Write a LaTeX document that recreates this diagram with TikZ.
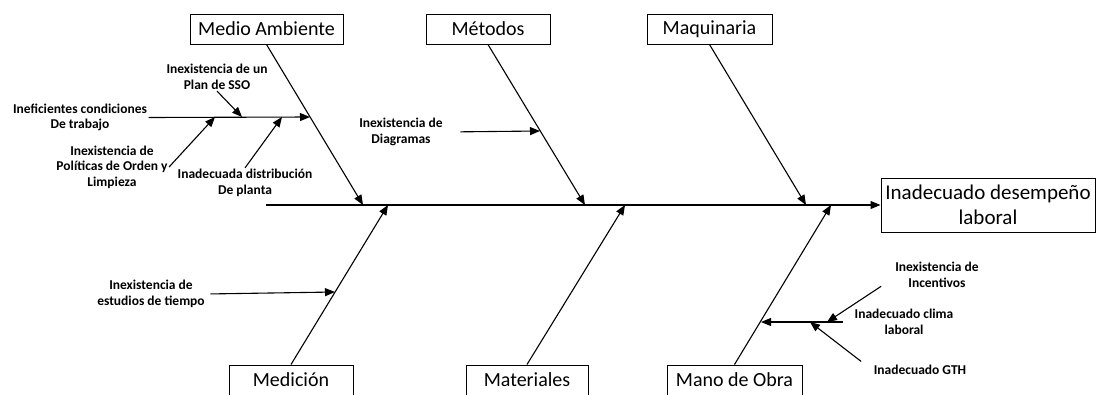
\documentclass[tikz,border=0pt]{standalone}
\usepackage{fontspec}
\setmainfont{Carlito}
\usetikzlibrary{arrows.meta}

\begin{document}
\begin{tikzpicture}[x=1pt,y=-1pt,line width=1.1pt,
  causa/.style={draw,line width=1pt,align=center,minimum height=30pt,inner sep=0pt,font=\fontsize{20}{24}\selectfont},
  etiq/.style={align=center,inner sep=1pt,font=\bfseries\fontsize{13.5}{15.5}\selectfont},
  >={Triangle[length=10pt,width=8pt]}]
\useasboundingbox (0,0) rectangle (1096,394);
% cajas
\node[causa,minimum width=153pt] (Amb) at (266.5,29) {Medio Ambiente};
\node[causa,minimum width=124pt] (Met) at (488,29) {Métodos};
\node[causa,minimum width=125pt] (Maq) at (709.5,29) {Maquinaria};
\node[causa,minimum width=124pt] (Med) at (291,380) {Medición};
\node[causa,minimum width=122pt] (Mat) at (527,380) {Materiales};
\node[causa,minimum width=135pt] (Obra) at (734.5,380) {Mano de Obra};
\node[causa,minimum width=214pt,minimum height=54pt,font=\fontsize{21}{25}\selectfont] (Efecto) at (988,205) {Inadecuado desempeño\\laboral};
% espina
\coordinate (S) at (266,205);
\coordinate (pAmb) at (363,205);
\coordinate (pMet) at (585,205);
\coordinate (pMaq) at (806,205);
\coordinate (pMed) at (388,205);
\coordinate (pMat) at (625,205);
\coordinate (pObra) at (831,205);
\path[->]
(S) edge (Efecto)
(Amb.south) edge (pAmb)
(Met.south) edge (pMet)
(Maq.south) edge (pMaq)
(Med.north) edge (pMed)
(Mat.north) edge (pMat)
(Obra.north) edge (pObra);
% subcausas
\node[etiq] (L1) at (80,117.5) {Ineficientes condiciones\\De trabajo};
\node[etiq] (L2) at (217,77) {Inexistencia de un\\Plan de SSO};
\node[etiq] (L3) at (112,167) {Inexistencia de\\Políticas de Orden y\\Limpieza};
\node[etiq] (L4) at (245,183) {Inadecuada distribución\\De planta};
\node[etiq] (L5) at (401,132) {Inexistencia de\\Diagramas};
\node[etiq] (L6) at (151,294) {Inexistencia de\\estudios de tiempo};
\node[etiq] (L7) at (904,322) {Inadecuado clima\\laboral};
\node[etiq] (L8) at (937,275) {Inexistencia de\\Incentivos};
\node[etiq] (L9) at (920,370) {Inadecuado GTH};
\coordinate (a1) at (310,117);
\coordinate (b1) at (242,117);
\coordinate (b2) at (215,117);
\coordinate (b3) at (282,117);
\coordinate (c1) at (540,131);
\coordinate (d1) at (335,292);
\coordinate (e1) at (761,322);
\coordinate (f1) at (827,322);
\coordinate (f2) at (810,322);
\path[->]
(L1.east) edge (a1)
(L2.south) edge (b1)
(L3.east) edge (b2)
(L4.north) edge (b3)
(L5.east) edge[shorten <=16pt] (c1)
(L6.east) edge[shorten <=4pt] (d1)
(L7.west) edge[shorten <=10pt] (e1)
([yshift=-3pt]L8.west) edge[shorten <=15pt] (f1)
(L9.west) edge[shorten <=14pt] (f2);
\end{tikzpicture}
\end{document}
